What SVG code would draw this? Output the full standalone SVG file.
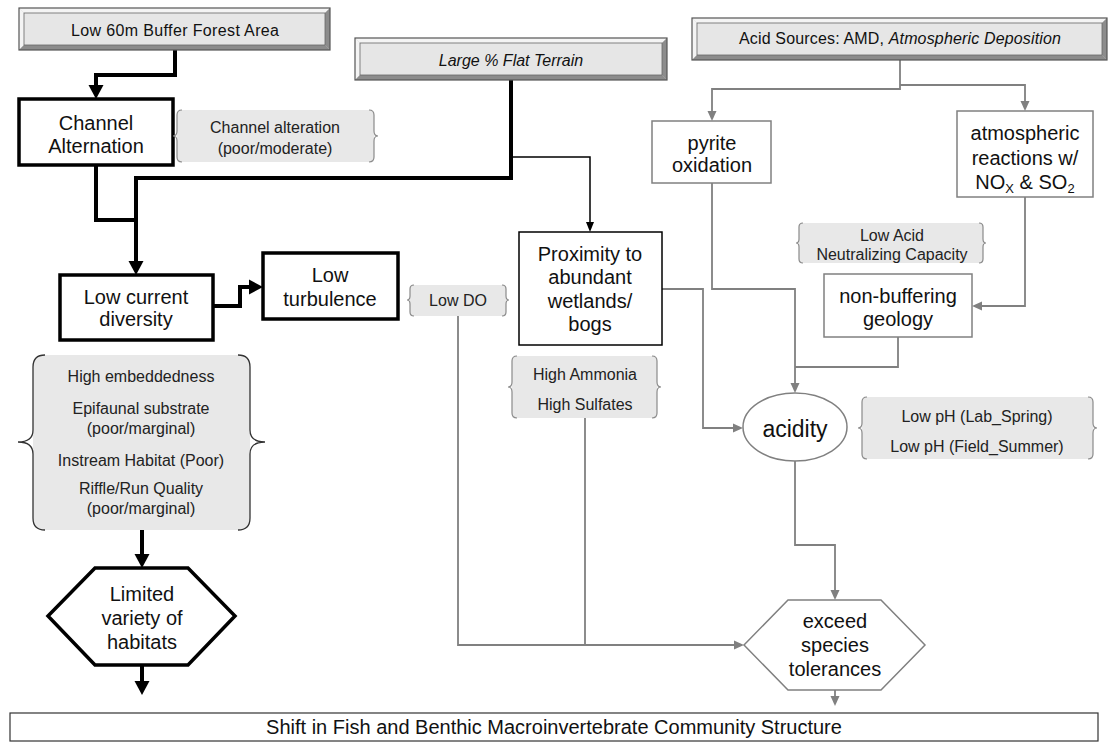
<svg xmlns="http://www.w3.org/2000/svg" width="1109" height="744" viewBox="0 0 1109 744">
<style>
text{font-family:"Liberation Sans",Arial,sans-serif;fill:#111;text-anchor:middle}
.n{font-size:20px}
.b{font-size:16px;fill:#222}
.t{font-size:16px;fill:#111}
.thick{fill:#fff;stroke:#000;stroke-width:3.5}
.thin{fill:#fff;stroke:#000;stroke-width:1.5}
.gbox{fill:#fff;stroke:#808080;stroke-width:1.5}
.bfill{fill:#e8e8e8;stroke:none}
.brace{fill:none;stroke:#8a8a8a;stroke-width:1.2}
.bigbrace{fill:none;stroke:#333;stroke-width:1.3}
.outer{fill:none;stroke:#555;stroke-width:1.2}
.lt{fill:#f4f4f4}
.dk{fill:#8c8c8c}
.inner{fill:#e6e6e6;stroke:#666;stroke-width:0.8}
.ck{fill:none;stroke:#000;stroke-width:4}
.cn{fill:none;stroke:#000;stroke-width:1.5}
.cg{fill:none;stroke:#808080;stroke-width:1.8}
</style>
<defs>
<marker id="ahThick" markerUnits="userSpaceOnUse" markerWidth="16" markerHeight="16" refX="0" refY="8" orient="auto"><path d="M0,0.5 L14,8 L0,15.5 z" fill="#000"/></marker>
<marker id="ahThin" markerUnits="userSpaceOnUse" markerWidth="11" markerHeight="10" refX="0" refY="5" orient="auto"><path d="M0,1 L10,5 L0,9 z" fill="#000"/></marker>
<marker id="ahGray" markerUnits="userSpaceOnUse" markerWidth="11" markerHeight="10" refX="0" refY="5" orient="auto"><path d="M0,0.5 L10,5 L0,9.5 z" fill="#808080"/></marker>
</defs>
<rect width="1109" height="744" fill="#fff"/>

<g id="connectors">
<path class="ck" d="M175,50 V75 H96 V85" marker-end="url(#ahThick)"/>
<path class="ck" d="M96,165 V220 H136"/>
<path class="ck" d="M511,80 V178 H136 V261" marker-end="url(#ahThick)"/>
<path class="ck" d="M213,306 H240 V287 H249" marker-end="url(#ahThick)"/>
<path class="ck" d="M142,530 V554" marker-end="url(#ahThick)"/>
<path class="ck" d="M142,665 V681" marker-end="url(#ahThick)"/>
<path class="cn" d="M511,157 H590 V222" marker-end="url(#ahThin)"/>
<path class="cg" d="M900,60 V89 H712 V111" marker-end="url(#ahGray)"/>
<path class="cg" d="M900,85 H1025 V101" marker-end="url(#ahGray)"/>
<path class="cg" d="M712,183 V289 H795 V383" marker-end="url(#ahGray)"/>
<path class="cg" d="M898,337 V367 H795"/>
<path class="cg" d="M1025,197 V306 H982" marker-end="url(#ahGray)"/>
<path class="cg" d="M662,289 H703 V428 H733" marker-end="url(#ahGray)"/>
<path class="cg" d="M795,461 V545 H835 V590" marker-end="url(#ahGray)"/>
<path class="cg" d="M458,316 V645 H734" marker-end="url(#ahGray)"/>
<path class="cg" d="M585,418 V645"/>
<path class="cg" d="M835,690 V696" marker-end="url(#ahGray)"/>
</g>

<g id="buffer-forest">
<rect x="19" y="8" width="311" height="42" fill="#c8c8c8"/>
<polygon class="lt" points="19,8 330,8 325,13 24,13"/>
<polygon class="lt" points="19,8 24,13 24,45 19,50"/>
<polygon class="dk" points="19,50 24,45 325,45 330,50"/>
<polygon class="dk" points="330,8 330,50 325,45 325,13"/>
<rect class="inner" x="24" y="13" width="301" height="32"/>
<rect class="outer" x="19" y="8" width="311" height="42"/>
<text class="t" x="175" y="36" textLength="208" lengthAdjust="spacing">Low 60m Buffer Forest Area</text>
</g>

<g id="flat-terrain">
<rect x="355" y="38" width="312" height="42" fill="#c8c8c8"/>
<polygon class="lt" points="355,38 667,38 662,43 360,43"/>
<polygon class="lt" points="355,38 360,43 360,75 355,80"/>
<polygon class="dk" points="355,80 360,75 662,75 667,80"/>
<polygon class="dk" points="667,38 667,80 662,75 662,43"/>
<rect class="inner" x="360" y="43" width="302" height="32"/>
<rect class="outer" x="355" y="38" width="312" height="42"/>
<text class="t" x="511" y="66" font-style="italic">Large % Flat Terrain</text>
</g>

<g id="acid-sources">
<rect x="692" y="18" width="415" height="42" fill="#c8c8c8"/>
<polygon class="lt" points="692,18 1107,18 1102,23 697,23"/>
<polygon class="lt" points="692,18 697,23 697,55 692,60"/>
<polygon class="dk" points="692,60 697,55 1102,55 1107,60"/>
<polygon class="dk" points="1107,18 1107,60 1102,55 1102,23"/>
<rect class="inner" x="697" y="23" width="405" height="32"/>
<rect class="outer" x="692" y="18" width="415" height="42"/>
<text class="t" x="900" y="44" textLength="322" lengthAdjust="spacing">Acid Sources: AMD, <tspan font-style="italic">Atmospheric Deposition</tspan></text>
</g>

<g id="channel-alternation">
<rect class="thick" x="19" y="99" width="154" height="66"/>
<text class="n" x="96" y="130">Channel</text>
<text class="n" x="96" y="153">Alternation</text>
</g>

<g id="channel-alteration-note">
<rect class="bfill" x="177" y="110" width="197" height="52" rx="5"/>
<path class="brace" d="M182,110 Q177,110 177,115 L177,131 Q177,136 173,136 Q177,136 177,141 L177,157 Q177,162 182,162"/>
<path class="brace" d="M369,110 Q374,110 374,115 L374,131 Q374,136 378,136 Q374,136 374,141 L374,157 Q374,162 369,162"/>
<text class="b" x="275" y="133">Channel alteration</text>
<text class="b" x="275" y="154">(poor/moderate)</text>
</g>

<g id="low-current-diversity">
<rect class="thick" x="60" y="275" width="153" height="65"/>
<text class="n" x="136" y="304">Low current</text>
<text class="n" x="136" y="326">diversity</text>
</g>

<g id="low-turbulence">
<rect class="thick" x="263" y="253" width="135" height="66"/>
<text class="n" x="330" y="282">Low</text>
<text class="n" x="330" y="306">turbulence</text>
</g>

<g id="low-do-note">
<rect class="bfill" x="410" y="285" width="96" height="31" rx="4"/>
<path class="brace" d="M414,285 Q410,285 410,289 L410,296 Q410,300 407,300 Q410,300 410,304 L410,312 Q410,316 414,316"/>
<path class="brace" d="M502,285 Q506,285 506,289 L506,296 Q506,300 509,300 Q506,300 506,304 L506,312 Q506,316 502,316"/>
<text class="b" x="458" y="306">Low DO</text>
</g>

<g id="proximity-wetlands">
<rect class="thin" x="519" y="232" width="143" height="113"/>
<text class="n" x="590" y="261">Proximity to</text>
<text class="n" x="590" y="284">abundant</text>
<text class="n" x="590" y="308">wetlands/</text>
<text class="n" x="590" y="331">bogs</text>
</g>

<g id="ammonia-sulfates-note">
<rect class="bfill" x="512" y="356" width="145" height="62" rx="5"/>
<path class="brace" d="M517,356 Q512,356 512,361 L512,382 Q512,387 508,387 Q512,387 512,392 L512,413 Q512,418 517,418"/>
<path class="brace" d="M652,356 Q657,356 657,361 L657,382 Q657,387 661,387 Q657,387 657,392 L657,413 Q657,418 652,418"/>
<text class="b" x="585" y="380">High Ammonia</text>
<text class="b" x="585" y="410">High Sulfates</text>
</g>

<g id="pyrite-oxidation">
<rect class="gbox" x="652" y="121" width="119" height="62"/>
<text class="n" x="712" y="150">pyrite</text>
<text class="n" x="712" y="172">oxidation</text>
</g>

<g id="atmospheric-reactions">
<rect class="gbox" x="957" y="111" width="136" height="86"/>
<text class="n" x="1025" y="140">atmospheric</text>
<text class="n" x="1025" y="165">reactions w/</text>
<text class="n" x="1025" y="189">NO<tspan dy="4" font-size="13">X</tspan><tspan dy="-4"> &amp; SO</tspan><tspan dy="4" font-size="13">2</tspan></text>
</g>

<g id="anc-note">
<rect class="bfill" x="799" y="223" width="184" height="40" rx="4"/>
<path class="brace" d="M803,223 Q799,223 799,227 L799,239 Q799,243 796,243 Q799,243 799,247 L799,259 Q799,263 803,263"/>
<path class="brace" d="M979,223 Q983,223 983,227 L983,239 Q983,243 986,243 Q983,243 983,247 L983,259 Q983,263 979,263"/>
<text class="b" x="892" y="241">Low Acid</text>
<text class="b" x="892" y="260">Neutralizing Capacity</text>
</g>

<g id="non-buffering-geology">
<rect class="gbox" x="824" y="274" width="148" height="63"/>
<text class="n" x="898" y="303">non-buffering</text>
<text class="n" x="898" y="326">geology</text>
</g>

<g id="acidity">
<ellipse class="gbox" cx="795" cy="427" rx="52" ry="34"/>
<text x="795" y="437" font-size="23">acidity</text>
</g>

<g id="ph-note">
<rect class="bfill" x="862" y="397" width="231" height="62" rx="5"/>
<path class="brace" d="M867,397 Q862,397 862,402 L862,423 Q862,428 858,428 Q862,428 862,433 L862,454 Q862,459 867,459"/>
<path class="brace" d="M1088,397 Q1093,397 1093,402 L1093,423 Q1093,428 1097,428 Q1093,428 1093,433 L1093,454 Q1093,459 1088,459"/>
<text class="b" x="977" y="422">Low pH (Lab_Spring)</text>
<text class="b" x="977" y="452">Low pH (Field_Summer)</text>
</g>

<g id="habitat-note">
<rect class="bfill" x="33" y="355" width="217" height="175" rx="12"/>
<path class="bigbrace" d="M45,355 Q33,355 33,367 L33,430 Q33,442 18,442 Q33,442 33,454 L33,518 Q33,530 45,530"/>
<path class="bigbrace" d="M238,355 Q250,355 250,367 L250,430 Q250,442 265,442 Q250,442 250,454 L250,518 Q250,530 238,530"/>
<text class="b" x="141" y="382">High embeddedness</text>
<text class="b" x="141" y="414">Epifaunal substrate</text>
<text class="b" x="141" y="434">(poor/marginal)</text>
<text class="b" x="141" y="466">Instream Habitat (Poor)</text>
<text class="b" x="141" y="494">Riffle/Run Quality</text>
<text class="b" x="141" y="514">(poor/marginal)</text>
</g>

<g id="limited-variety">
<polygon class="thick" points="48,616 95,568 188,568 235,616 188,665 95,665"/>
<text class="n" x="142" y="601">Limited</text>
<text class="n" x="142" y="625">variety of</text>
<text class="n" x="142" y="649">habitats</text>
</g>

<g id="exceed-tolerances">
<polygon class="gbox" points="744,645 788,600 881,600 925,645 881,690 788,690"/>
<text class="n" x="835" y="628">exceed</text>
<text class="n" x="835" y="652">species</text>
<text class="n" x="835" y="676">tolerances</text>
</g>

<g id="community-shift">
<rect x="10" y="713" width="1088" height="28" fill="#fff" stroke="#333" stroke-width="1.2"/>
<text class="n" x="554" y="734">Shift in Fish and Benthic Macroinvertebrate Community Structure</text>
</g>
</svg>
